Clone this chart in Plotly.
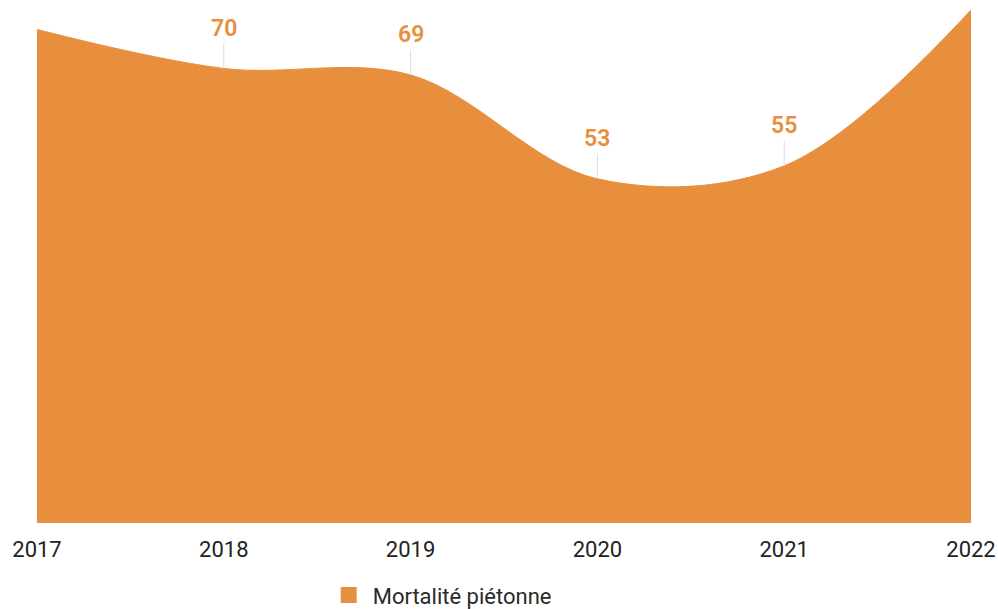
import plotly.graph_objects as go

years = [2017, 2018, 2019, 2020, 2021, 2022]
mortalite = [76, 70, 69, 53, 55, 79]
labeled_years = [2018, 2019, 2020, 2021]
labeled_values = [70, 69, 53, 55]
series_name = "Mortalité piétonne"
tick_labels = ["2017", "2018", "2019", "2020", "2021", "2022"]

ORANGE = "#E78F3D"

fig = go.Figure()
fig.add_trace(go.Scatter(
    x=years, y=mortalite, mode="lines", fill="tozeroy",
    line=dict(shape="spline", smoothing=1, color=ORANGE, width=1),
    fillcolor=ORANGE, showlegend=False, hoverinfo="x+y",
))
fig.add_trace(go.Scatter(
    x=[None], y=[None], mode="markers", name=series_name,
    marker=dict(symbol="square", size=16, color=ORANGE),
))

for xv, yv in zip(labeled_years, labeled_values):
    fig.add_annotation(
        x=xv, y=yv, text=str(yv), showarrow=True, arrowhead=0,
        arrowwidth=1, arrowcolor="#dddddd", ax=0, ay=-40,
        font=dict(family="Roboto", size=23, color=ORANGE, weight=600),
        standoff=0, startstandoff=0,
    )

fig.update_layout(
    width=998, height=609,
    margin=dict(l=37, r=27, t=10, b=86, autoexpand=False),
    paper_bgcolor="white", plot_bgcolor="white",
    font=dict(family="Roboto", color="#222222"),
    xaxis=dict(range=[2017, 2022], tickvals=years, ticktext=tick_labels,
               showgrid=False, zeroline=False, showline=False, automargin=False,
               tickfont=dict(size=22, color="#222222"), ticks="",
               ticklabelstandoff=11),
    yaxis=dict(range=[0, 79], visible=False, showgrid=False, zeroline=False),
    legend=dict(orientation="h", x=0.308, xanchor="left", y=-0.1, yanchor="top",
                itemwidth=38, tracegroupgap=0,
                font=dict(size=22, color="#2a2a2a")),
    showlegend=True,
)

fig.write_html("out.html",
               config={"displayModeBar": False},
               post_script="document.body.style.margin='0';document.body.style.overflow='hidden';")
